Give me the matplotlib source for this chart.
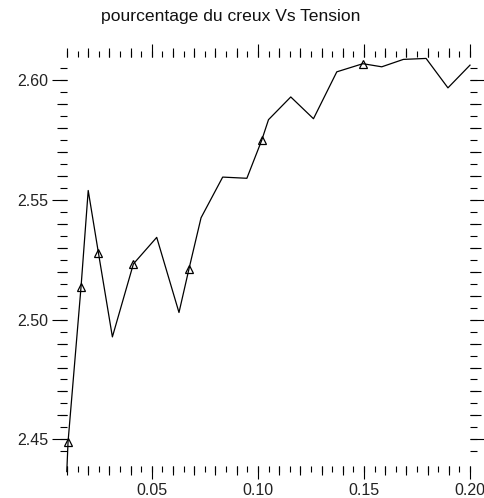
import matplotlib
matplotlib.use("Agg")
import matplotlib.pyplot as plt
from matplotlib.ticker import MultipleLocator, FormatStrFormatter, NullFormatter

plt.rcParams['font.family'] = ['Liberation Sans', 'DejaVu Sans']

# Measured curve: tension vs pourcentage du creux
tension = [0.0099, 0.0105, 0.0166, 0.0200, 0.0248, 0.0314, 0.0413, 0.0523,
           0.0628, 0.0675, 0.0732, 0.0834, 0.0948, 0.1018, 0.1050, 0.1155,
           0.1262, 0.1372, 0.1495, 0.1584, 0.1686, 0.1793, 0.1896, 0.2000]
pourcentage = [2.4365, 2.4490, 2.5135, 2.5540, 2.5280, 2.4928, 2.5233, 2.5344,
               2.5030, 2.5212, 2.5426, 2.5596, 2.5591, 2.5750, 2.5836, 2.5931,
               2.5840, 2.6036, 2.6070, 2.6057, 2.6088, 2.6092, 2.5969, 2.6064]
# points carrying a marker
marked = [1, 2, 4, 6, 9, 13, 18]

title = "pourcentage du creux Vs Tension"
xlim = (0.01, 0.20)
ylim = (2.4405, 2.6098)

W, H = 485, 498
fig = plt.figure(figsize=(W / 100, H / 100), dpi=100)
rect = [67 / W, 1 - 462 / H, (470 - 67) / W, (462 - 57) / H]
ax2 = fig.add_axes(rect, frameon=False)
ax = fig.add_axes(rect, frameon=False)
ax2.patch.set_visible(False)
ax.patch.set_visible(False)

px = 0.72  # points per pixel

ax.plot(tension, pourcentage, color='black', lw=0.9, clip_on=False,
        marker='^', markevery=marked, markersize=6, fillstyle='none',
        markeredgewidth=0.9, markeredgecolor='black')

for a in (ax, ax2):
    a.set_xlim(*xlim)
    a.set_ylim(*ylim)
    a.spines['bottom'].set_position(('outward', 4 * px))
    a.tick_params(which='both', direction='out', top=True, bottom=True,
                  left=True, right=True, color='black', width=0.8)

# labelled ticks every 0.05, medium ticks every 0.01
ax.xaxis.set_major_locator(MultipleLocator(0.05))
ax.xaxis.set_minor_locator(MultipleLocator(0.01))
ax.yaxis.set_major_locator(MultipleLocator(0.05))
ax.yaxis.set_minor_locator(MultipleLocator(0.01))
ax.xaxis.set_major_formatter(FormatStrFormatter('%.2f'))
ax.yaxis.set_major_formatter(FormatStrFormatter('%.2f'))
ax.tick_params(axis='x', which='major', length=13 * px, pad=4 * px,
               labelsize=11.5, labeltop=False, labelcolor='#222222')
ax.tick_params(axis='x', which='minor', length=9 * px)
ax.tick_params(axis='y', which='major', length=15 * px, pad=4 * px,
               labelsize=11.5, labelright=False, labelcolor='#222222')
ax.tick_params(axis='y', which='minor', length=10.5 * px)

# short ticks every 0.005 on the overlay axes
ax2.xaxis.set_major_locator(MultipleLocator(0.005))
ax2.yaxis.set_major_locator(MultipleLocator(0.005))
ax2.xaxis.set_major_formatter(NullFormatter())
ax2.yaxis.set_major_formatter(NullFormatter())
ax2.tick_params(axis='x', which='major', length=6 * px)
ax2.tick_params(axis='y', which='major', length=7 * px)

fig.text(231 / W, 1 - 16 / H, title, ha='center', va='center',
         fontsize=12.6, color='#111111')

fig.savefig("out.png", dpi=100)
